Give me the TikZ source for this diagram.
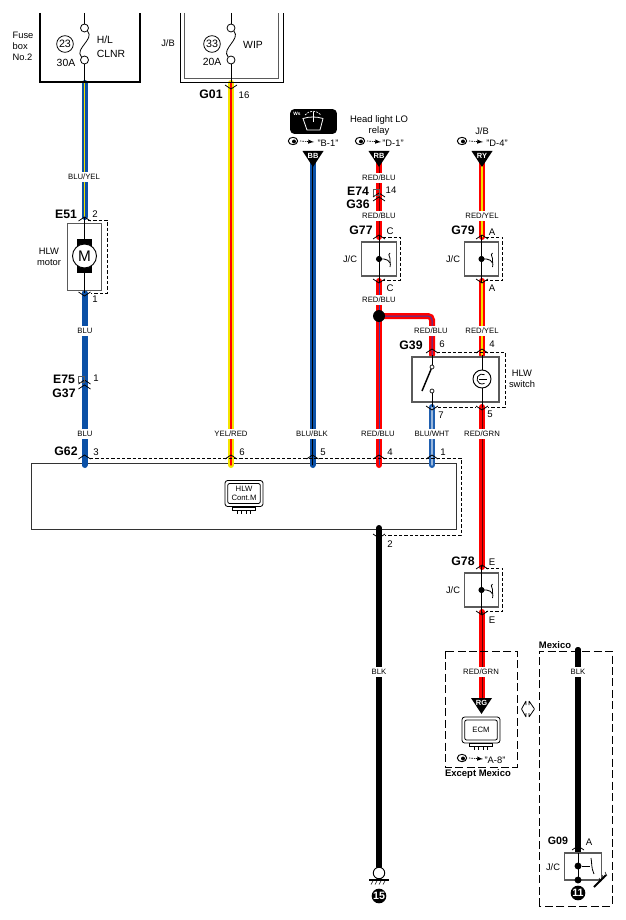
\documentclass[tikz,border=0pt]{standalone}
\usepackage{fontspec}
\setmainfont{Liberation Sans}
\usetikzlibrary{shapes.geometric}
\definecolor{wireBlue}{HTML}{0B50A6}
\definecolor{wireRed}{HTML}{FF0000}
\definecolor{wireYellow}{HTML}{F4E400}
\definecolor{wirePurple}{HTML}{3A3CA8}
\definecolor{wireLightBlue}{HTML}{1F5FB0}
\definecolor{boxGrey}{HTML}{5A5A5A}
\begin{document}
\begin{tikzpicture}
[x=0.75pt,y=-0.75pt,%
  wireSolid/.style={draw=#1,line width=4.5pt,line cap=round},%
  wireCore/.style={double=#1,double distance=1.1pt,line width=1.7pt,line cap=round},%
  wireThin/.style={draw=black,line width=0.6pt},%
  wireLabel/.style={fill=white,inner xsep=1pt,inner ysep=1.9pt,font=\fontsize{5.8}{6}\selectfont},%
  pinLabel/.style={inner sep=0pt,font=\fontsize{7.2}{8}\selectfont},%
  connName/.style={inner sep=0pt,font=\fontsize{9.2}{10}\selectfont\bfseries},%
  bodyText/.style={inner sep=0pt,align=center,font=\fontsize{7}{8.3}\selectfont},%
  fuseText/.style={inner sep=0pt,align=center,font=\fontsize{7.8}{10.5}\selectfont},%
  boldText/.style={inner sep=0pt,font=\fontsize{7.1}{8}\selectfont\bfseries},%
  refText/.style={inner sep=0pt,font=\fontsize{7}{8}\selectfont},%
  triText/.style={inner sep=0pt,text=white,font=\fontsize{5.6}{6}\selectfont\bfseries},%
  fuseEnd/.style={shape=circle,draw,fill=white,inner sep=0pt,minimum size=6pt,line width=0.6pt},%
  numCircle/.style={shape=circle,draw,inner sep=0pt,minimum size=12.5pt,line width=0.6pt,font=\fontsize{8}{8}\selectfont},%
  groundNum/.style={shape=circle,fill=black,text=white,inner sep=0pt,minimum size=11pt,font=\fontsize{8}{8}\selectfont\bfseries},%
  greyBox/.style={shape=rectangle,draw=boxGrey,fill=white,line width=0.9pt,inner sep=0pt},%
  dashLine/.style={draw=black,line width=0.6pt,dash pattern=on 2.4pt off 1.6pt},%
  areaLine/.style={draw=black,line width=0.6pt,dash pattern=on 6pt off 2.6pt},%
  junctionDot/.style={shape=circle,fill=black,inner sep=0pt,minimum size=#1}]
%% body of the control module
\node (contBox) at (244,496) [shape=rectangle,draw=black!80,fill=white,line width=0.7pt,
  minimum width=318.75pt,minimum height=49.5pt,inner sep=0pt] {};
%% wire end points
\foreach \pointname/\x/\y in {
  a1/84.5/83, a2/84.5/217, a3/84.5/293, a4/84.5/465,
  b1/231/83, b2/231/465,
  c1/312.5/160, c2/312.5/465,
  d1/379/160, d2/379/237, d3/379/281, d4/379/465, d5/379/316, d6/432/355,
  e1/482/160, e2/482/237, e3/482/281, e4/482/355, e5/482/407, e6/482/567,
  e7/482/612, e8/482/700,
  f1/432/407, f2/432/465,
  g1/379/528, g2/379/868,
  h1/578/650, h2/578/853}
{
  \coordinate (\pointname) at (\x,\y);
}
%% wires
\draw[wireCore=wireYellow,draw=wireBlue] (a1) -- (a2);
\draw[wireSolid=wireBlue] (a3) -- (a4);
\draw[wireCore=wireRed,draw=wireYellow,double distance=1pt,line width=1.75pt] (b1) -- (b2);
\draw[wireCore=black,draw=wireBlue,double distance=0.5pt,line width=2pt] (c1) -- (c2);
\draw[wireCore=black!60!wireRed,draw=wireRed,double distance=0.3pt,line width=2.1pt] (d1) -- (d2);
\draw[wireCore=wirePurple,draw=wireRed,double distance=0.75pt,line width=1.875pt] (d3) -- (d4);
\draw[wireCore=wirePurple,draw=wireRed,double distance=0.75pt,line width=1.875pt,rounded corners=3pt]
  (d5) -| (d6);
\draw[wireCore=wireYellow,draw=wireRed,double distance=1pt,line width=1.75pt] (e1) -- (e2);
\draw[wireCore=wireYellow,draw=wireRed,double distance=1pt,line width=1.75pt] (e3) -- (e4);
\draw[wireCore=black!60!wireRed,draw=wireRed,double distance=0.3pt,line width=2.1pt] (e5) -- (e6);
\draw[wireCore=black!60!wireRed,draw=wireRed,double distance=0.3pt,line width=2.1pt] (e7) -- (e8);
\draw[wireCore=white!55!wireLightBlue,draw=wireLightBlue,double distance=1pt,line width=1.75pt] (f1) -- (f2);
\draw[wireSolid=black] (g1) -- (g2);
\draw[wireSolid=black] (h1) -- (h2);
\node (branchDot) at (d5) [junctionDot=9pt] {};
%% labels on the wires
\foreach \x/\y/\labeltext [count=\i] in {
  84/177/{BLU/YEL}, 85/331/BLU, 85/434/BLU, 231/434/{YEL/RED}, 312/434/{BLU/BLK},
  379/178/{RED/BLU}, 379/216/{RED/BLU}, 379/300/{RED/BLU}, 431/331/{RED/BLU},
  378/434/{RED/BLU}, 432/434/{BLU/WHT}, 482/216/{RED/YEL}, 482/331/{RED/YEL},
  482/434/{RED/GRN}, 481/672/{RED/GRN}, 379/672/BLK, 578/672/BLK}
{
  \node (wireLabel\i) at (\x,\y) [wireLabel] {\labeltext};
}
%% fuse box No.2
\draw[line width=1.5pt] (40,13) -- (40,82) -- (140,82) -- (140,13);
\node (fuseA1) at (84.5,28) [fuseEnd] {};
\node (fuseA2) at (84.5,60) [fuseEnd] {};
\draw[wireThin] (84.5,13) -- (fuseA1);
\draw[wireThin] (fuseA1) .. controls (95,39) and (74,49) .. (fuseA2);
\draw[wireThin] (fuseA2) -- (a1);
\node (fuseNumA) at (65,44) [numCircle] {23};
\node (fuseAmpA) at (66,63) [fuseText] {30A};
\node (fuseNameA) at (111,46.5) [fuseText,align=left] {H/L\\CLNR};
\node (fuseBoxName) at (23,46) [bodyText,align=left] {Fuse\\box\\No.2};
%% J/B
\draw[line width=0.6pt] (180,13) -- (180,82) -- (283,82) -- (283,13);
\draw[line width=0.6pt,draw=boxGrey] (184,13) -- (184,78) -- (278,78) -- (278,13);
\node (fuseB1) at (231,28) [fuseEnd] {};
\node (fuseB2) at (231,60) [fuseEnd] {};
\draw[wireThin] (231,13) -- (fuseB1);
\draw[wireThin] (fuseB1) .. controls (241,39) and (221,49) .. (fuseB2);
\draw[wireThin] (fuseB2) -- (b1);
\node (fuseNumB) at (212,44) [numCircle] {33};
\node (fuseAmpB) at (212,62) [fuseText] {20A};
\node (fuseNameB) at (253,45) [fuseText] {WIP};
\node (jbName) at (168,43) [bodyText] {J/B};
%% HLW motor
\node (motorBox) at (84.5,257) [greyBox,minimum width=26pt,minimum height=50pt] {};
\draw[wireThin] (a2) -- (a3);
\fill (77,239) rectangle (92,273);
\node (motorM) at (84.5,256) [shape=circle,draw,fill=white,line width=0.7pt,inner sep=0pt,
  minimum size=18pt,font=\fontsize{11.5}{12}\selectfont] {M};
\node (motorName) at (49,257) [bodyText] {HLW\\motor};
\draw[dashLine] (88,220) -- (107,220) -- (107,293) -- (91,293);
%% J/C boxes
\foreach \boxname/\x/\y/\labelx in {
  jcA/379/259/350, jcB/481.5/259/453, jcC/481.5/590/453}
{
  \node (\boxname) at (\x,\y) [greyBox,draw=boxGrey,minimum width=26pt,minimum height=25.5pt] {};
  \draw[wireThin] ([yshift=4.5pt]\boxname.north) -- ([yshift=-4.5pt]\boxname.south);
  \node (\boxname Dot) at (\x,\y) [junctionDot=4.6pt] {};
  \node (\boxname Name) at (\labelx,\y) [bodyText] {J/C};
  \begin{scope}[shift={(\x,\y)}]
    \draw[line width=0.6pt] (0,0) -- (5,0) .. controls (8,0) and (10,2) .. (11,4);
    \draw[line width=0.6pt] (11,-6) .. controls (8,-4) and (12,-2) .. (11,2) .. controls (11,5) and (12,7) .. (11,8);
    \draw[dashLine] (4,-22) -- (21,-22) -- (21,21) -- (4,21);
  \end{scope}
}
%% HLW switch
\node (switchBox) at (455.5,379.5) [greyBox,line width=1pt,minimum width=65.25pt,minimum height=33.75pt] {};
\draw[dashLine] (437,352) -- (505,352) -- (505,407) -- (488,407);
\draw[dashLine] (438,407) -- (476,407);
\node (switchTop) at (432,367) [shape=circle,draw,fill=white,inner sep=0pt,minimum size=3pt,line width=0.5pt] {};
\node (switchBot) at (432,391) [shape=circle,draw,fill=white,inner sep=0pt,minimum size=3pt,line width=0.5pt] {};
\draw[wireThin] (d6) -- (switchTop);
\draw[wireThin] (switchBot) -- (f1);
\draw[line width=1.1pt] (422,391) -- (switchTop);
\draw[wireThin] (e4) -- (e5);
\node (lampCircle) at (482,379) [shape=circle,draw,fill=white,line width=0.7pt,inner sep=0pt,minimum size=13.5pt] {};
\draw[line width=0.6pt] (484.5,374.7) arc (-60:-300:5);
\draw[line width=0.6pt] (479,379) -- (487,379);
\node (switchName) at (522,379) [bodyText] {HLW\\switch};
%% dashed outline of the control module
\draw[dashLine] (90,458) -- (461,458) -- (461,535) -- (385,535);
%% HLW Cont.M and ECM
\foreach \iconname/\x/\y/\icontext in {
  iconCont/244/493.5/{HLW\\Cont.M}, iconEcm/481/730/ECM}
{
  \node (\iconname) at (\x,\y) [shape=rectangle,rounded corners=2pt,draw,fill=white,line width=0.6pt,
    minimum width=28.5pt,minimum height=19.5pt,inner sep=0pt] {};
  \node (\iconname Text) at (\x,\y) [shape=rectangle,rounded corners=1.5pt,draw,line width=0.6pt,
    minimum width=24.5pt,minimum height=15pt,inner sep=0pt,align=center,
    font=\fontsize{5.8}{7}\selectfont] {\icontext};
  \draw[line width=0.6pt] (\x-11.5,\y+13.5) rectangle (\x+11.5,\y+16.5);
  \foreach \pinx in {-7,-2.5,2,6.5}
  {
    \draw[line width=0.5pt] (\x+\pinx,\y+16.5) -- (\x+\pinx,\y+20);
  }
}
%% wiper icon
\node (wsIcon) at (313.5,121.5) [shape=rectangle,rounded corners=3pt,fill=black,
  minimum width=35pt,minimum height=18.5pt,inner sep=0pt] {};
\node (wsText) at (297,113.5) [inner sep=0pt,text=white,font=\fontsize{3.6}{4}\selectfont\bfseries] {Ws};
\draw[white,line width=0.6pt] (303,118.5) .. controls (309,116.5) and (317,116.5) .. (323,118.5)
  -- (320,130) -- (307,130) -- cycle;
\draw[white,line width=0.5pt,dash pattern=on 1.5pt off 0.8pt] (305,115) .. controls (309,110) and (317,110) .. (321,115);
\draw[white,line width=0.5pt] (313,112) -- (313,122);
%% head of the wires
\foreach \triname/\x/\y/\tritext in {
  triBB/313/151/BB, triRB/379/151/RB, triRY/482/151/RY, triRG/481.5/698/RG}
{
  \fill (\x-10.5,\y) -- (\x+10.5,\y) -- (\x,\y+16) -- cycle;
  \node (\triname) at (\x,\y+4.5) [triText] {\tritext};
}
%% where to look
\foreach \eyename/\x/\y/\reftext/\refx in {
  eyeB/293/141/{"B-1"}/328, eyeD/360/141/{"D-1"}/393, eyeE/462/141/{"D-4"}/497, eyeA/462/758/{"A-8"}/495}
{
  \node (\eyename) at (\x,\y) [shape=ellipse,draw,inner sep=0pt,minimum width=7pt,minimum height=5.5pt,line width=0.7pt] {};
  \fill (\x+1,\y+0.5) circle (2);
  \draw[line width=0.5pt,dash pattern=on 1.1pt off 0.7pt,-latex] (\x+7,\y) -- (\x+21,\y+1);
  \node (\eyename Ref) at (\refx,\y+2) [refText] {\reftext};
}
\node (relayName) at (379,125.5) [bodyText,font=\fontsize{7.1}{8.3}\selectfont] {Head light LO\\relay};
\node (jbNameB) at (482,131) [bodyText] {J/B};
%% connector names
\foreach \x/\y/\conntext [count=\i] in {
  211/94/G01, 66/214/E51, 64/379/E75, 64/393/G37, 66/451/G62, 358/191/E74, 358/204/G36,
  361/230/G77, 463/230/G79, 411/345/G39, 463/561/G78}
{
  \node (connName\i) at (\x,\y) [connName] {\conntext};
}
\node (connNameG) at (558,841) [connName,font=\fontsize{8}{9}\selectfont\bfseries] {G09};
%% pin numbers
\foreach \x/\y/\pintext [count=\i] in {
  244/95/16, 95/214/2, 95/299/1, 96/378/1, 96/452/3, 242/452/6, 323/452/5, 390/452/4,
  443/452/1, 391/190/14, 390/231/C, 390/288/C, 492/232/A, 492/288/A, 442/344/6, 492/344/4,
  441/415/7, 490/414/5, 390/544/2, 492/562/E, 492/620/E, 589/842/A}
{
  \node (pinName\i) at (\x,\y) [pinLabel] {\pintext};
}
%% carets, pointing up
\foreach \x/\y in {
  84.5/219, 84.5/382, 84.5/387, 84.5/457, 231/457, 312.5/457, 379/457, 432/457,
  379/195, 379/199, 379/237, 482/237, 432/351, 482/351, 482/567, 578/848}
{
  \draw[line width=0.6pt] (\x-6,\y+2) -- (\x,\y-2) -- (\x+6,\y+2);
}
%% carets, pointing down
\foreach \x/\y in {
  84.5/294, 231/87, 379/281, 482/281, 432/408, 482/408, 379/536, 482/613}
{
  \draw[line width=0.6pt] (\x-6,\y-2) -- (\x,\y+2) -- (\x+6,\y-2);
}
\draw[draw=boxGrey,line width=0.3pt] (78,376) rectangle (84,382);
\draw[draw=boxGrey,line width=0.3pt] (373,189) rectangle (379,195);
%% ground, left
\node (groundRing) at (379,873) [shape=circle,draw,fill=white,line width=0.7pt,inner sep=0pt,minimum size=8.6pt] {};
\draw[line width=1.1pt] (369,880) -- (389,880);
\foreach \x in {371,375,379,383}
{
  \draw[line width=0.4pt] (\x+2,881) -- (\x,884.5);
}
\node (groundNumA) at (379,896) [groundNum] {15};
%% except Mexico and Mexico areas
\draw[areaLine] (445,651) rectangle (517,767);
\node (areaNameA) at (478,774) [boldText] {Except Mexico};
\draw[areaLine] (539,906) -- (539,651) -- (612,651) -- (612,906) -- cycle;
\node (areaNameB) at (555,645) [boldText] {Mexico};
\draw[wireSolid=black] (h1) -- (578,660);
\draw[line width=0.6pt,fill=white,rounded corners=0.3pt]
  (526,705) -- (526,701) -- (521.5,709) -- (526,717) -- (526,713);
\draw[line width=0.6pt,fill=white,rounded corners=0.3pt]
  (529,705) -- (529,701) -- (534.5,709) -- (529,717) -- (529,713);
%% G09 box
\node (jcD) at (582.75,866.5) [greyBox,minimum width=27.75pt,minimum height=20.25pt] {};
\draw[wireThin] (h2) -- (578,880);
\node (jcDDot) at (578,866) [junctionDot=5.2pt] {};
\node (jcDGnd) at (578,880) [junctionDot=5.2pt] {};
\draw[line width=0.6pt] (jcDDot) -- (590,866);
\draw[line width=0.6pt] (591,858) .. controls (592,862) and (591,868) .. (594,874);
\node (jcDName) at (553,867) [bodyText] {J/C};
\draw[line width=1.4pt] (594,887) -- (606,875);
\foreach \d in {0,3,6}
{
  \draw[line width=0.4pt] (600+\d-1,881-\d-3) -- (600+\d+1,881-\d+1);
}
\node (groundNumB) at (578,893) [groundNum] {11};
\useasboundingbox (0,0) rectangle (625,920);
\end{tikzpicture}
\end{document}
